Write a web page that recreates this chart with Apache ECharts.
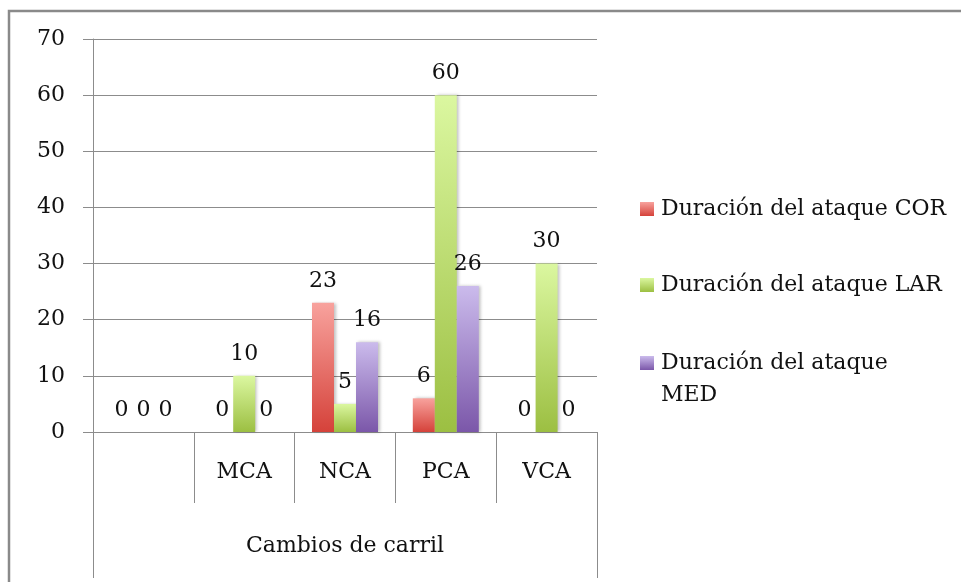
<!DOCTYPE html>
<html>
<head>
<meta charset="utf-8">
<script src="https://cdn.jsdelivr.net/npm/echarts@6/dist/echarts.min.js"></script>
<style>
  html, body { margin: 0; padding: 0; background: #fff; }
  #chart { width: 961px; height: 582px; }
</style>
</head>
<body>
<div id="chart"></div>
<script>
// Lane-change categories and attack durations per group
const categories = ['', 'MCA', 'NCA', 'PCA', 'VCA'];
const groupTitle = 'Cambios de carril';
const seriesNames = ['Duración del ataque COR', 'Duración del ataque LAR', 'Duración del ataque MED'];
const corValues = [0, 0, 23, 6, 0];
const larValues = [0, 10, 5, 60, 30];
const medValues = [0, 0, 16, 26, 0];
const yTicks = { min: 0, max: 70, interval: 10 };

const FONT = '"DejaVu Serif", "Liberation Serif", serif';
const FS = 22;
const AXIS_GREY = '#8c8c8c';

function grad(top, bottom) {
  return new echarts.graphic.LinearGradient(0, 0, 0, 1, [
    { offset: 0, color: top },
    { offset: 1, color: bottom }
  ]);
}

const palette = [
  grad('#f8a29d', '#d5423a'),
  grad('#dbf7a0', '#9cbf42'),
  grad('#cbbbec', '#7b57a9')
];

function barSeries(name, values, color) {
  return {
    name: name,
    type: 'bar',
    data: values,
    barWidth: 22,
    barGap: '0%',
    itemStyle: {
      color: color,
      shadowColor: 'rgba(0,0,0,0.25)',
      shadowBlur: 3,
      shadowOffsetX: 2
    },
    label: {
      show: true,
      position: 'top',
      distance: 11,
      fontFamily: FONT,
      fontSize: FS,
      color: '#111'
    }
  };
}

const legendText = { fontFamily: FONT, fontSize: FS, color: '#111', lineHeight: 32, padding: [0, 0, 0, 2] };
const legendBase = {
  orient: 'vertical',
  left: 635,
  itemWidth: 14,
  itemHeight: 14,
  itemGap: 44,
  icon: 'rect',
  textStyle: legendText
};

const chart = echarts.init(document.getElementById('chart'));
chart.setOption({
  animation: false,
  backgroundColor: '#fff',
  graphic: [{
    type: 'rect',
    shape: { x: 9, y: 11, width: 1000, height: 1000 },
    style: { fill: 'none', stroke: '#8a8a8a', lineWidth: 2.5 },
    silent: true
  }],
  grid: { left: 93, right: 364, top: 39, bottom: 150, containLabel: false },
  legend: [
    Object.assign({}, legendBase, {
      top: 188,
      data: [seriesNames[0], seriesNames[1]]
    }),
    // wrapped entry: a blank leading line keeps the first text line level with the swatch
    Object.assign({}, legendBase, {
      top: 310,
      data: [seriesNames[2]],
      formatter: function () { return ' \nDuración del ataque\nMED'; }
    })
  ],
  xAxis: [
    {
      type: 'category',
      data: categories,
      position: 'bottom',
      axisLine: { show: true, lineStyle: { color: AXIS_GREY, width: 1 } },
      axisTick: { show: true, length: 71, interval: 0, lineStyle: { color: AXIS_GREY } },
      axisLabel: { interval: 0, margin: 29, fontFamily: FONT, fontSize: FS, color: '#111' },
      splitLine: { show: false }
    },
    {
      type: 'category',
      data: [groupTitle],
      position: 'bottom',
      axisLine: { show: false },
      axisTick: { show: true, length: 146, interval: 0, lineStyle: { color: AXIS_GREY } },
      axisLabel: { margin: 103, fontFamily: FONT, fontSize: FS, color: '#111' },
      splitLine: { show: false }
    }
  ],
  yAxis: {
    type: 'value',
    min: yTicks.min,
    max: yTicks.max,
    interval: yTicks.interval,
    axisLine: { show: true, lineStyle: { color: AXIS_GREY } },
    axisTick: { show: true, length: 10, lineStyle: { color: AXIS_GREY } },
    axisLabel: { margin: 28, fontFamily: FONT, fontSize: FS, color: '#111' },
    splitLine: { show: true, lineStyle: { color: AXIS_GREY, width: 1 } }
  },
  series: [
    barSeries(seriesNames[0], corValues, palette[0]),
    barSeries(seriesNames[1], larValues, palette[1]),
    barSeries(seriesNames[2], medValues, palette[2])
  ]
});
</script>
</body>
</html>
